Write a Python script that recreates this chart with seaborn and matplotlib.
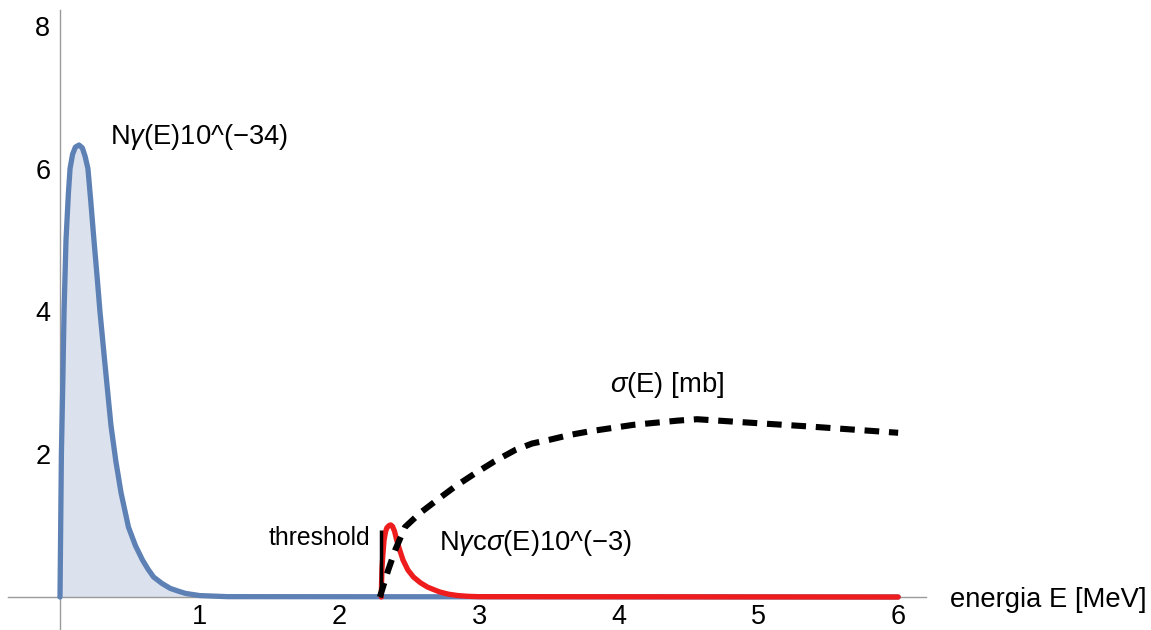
import numpy as np
import pandas as pd
import matplotlib
matplotlib.use("Agg")
import matplotlib.pyplot as plt
from matplotlib.ticker import FixedLocator
import seaborn as sns

# photon spectrum N_gamma(E) * 1e-34
e_gamma = [0.0, 0.005, 0.01, 0.02, 0.029, 0.043, 0.06, 0.072, 0.09, 0.11, 0.136, 0.16,
           0.18, 0.20, 0.22, 0.243, 0.265, 0.286, 0.32, 0.365, 0.40, 0.437, 0.49, 0.54,
           0.59, 0.63, 0.67, 0.73, 0.79, 0.85, 0.9, 1.0, 1.2, 6.0]
n_gamma = [0.0, 1.0, 2.0, 3.0, 4.0, 5.0, 5.65, 6.0, 6.2, 6.3, 6.33, 6.29,
           6.17, 6.0, 5.55, 5.0, 4.5, 4.0, 3.3, 2.4, 1.9, 1.46, 0.98, 0.72,
           0.52, 0.39, 0.28, 0.19, 0.12, 0.08, 0.05, 0.02, 0.005, 0.0]

# cross section sigma(E) in mb
e_sigma = [2.29, 2.35, 2.40, 2.47, 2.58, 2.70, 2.83, 2.97, 3.11, 3.26, 3.38, 3.50,
           3.65, 3.79, 4.10, 4.42, 4.56, 4.87, 5.35, 6.0]
sigma = [0.0, 0.38, 0.66, 0.98, 1.18, 1.36, 1.55, 1.73, 1.90, 2.06, 2.15, 2.20,
         2.27, 2.32, 2.41, 2.47, 2.49, 2.45, 2.39, 2.30]

# N_gamma * c * sigma(E) * 1e-3
e_rate = [2.30, 2.302, 2.305, 2.31, 2.315, 2.32, 2.33, 2.34, 2.355, 2.367, 2.38,
          2.395, 2.41, 2.43, 2.455, 2.49, 2.53, 2.58, 2.63, 2.68, 2.72, 2.78,
          2.85, 2.92, 3.0, 6.0]
rate = [0.0, 0.2, 0.4, 0.55, 0.68, 0.8, 0.91, 0.97, 1.0, 1.01, 0.99,
        0.92, 0.8, 0.67, 0.52, 0.38, 0.28, 0.2, 0.14, 0.1, 0.07, 0.04,
        0.02, 0.01, 0.005, 0.0]

threshold_E = 2.3
threshold_top = 0.94

x_major = [1, 2, 3, 4, 5, 6]
y_major = [2, 4, 6, 8]

sns.set_style("white")
plt.rcParams['font.family'] = ['Liberation Sans', 'DejaVu Sans']
plt.rcParams['mathtext.fontset'] = 'custom'
plt.rcParams['mathtext.rm'] = 'Liberation Sans'
plt.rcParams['mathtext.it'] = 'Liberation Sans:italic'
plt.rcParams['text.color'] = 'black'

fig = plt.figure(figsize=(11.51, 6.30), dpi=100)
ax = fig.add_axes([0, 0, 1, 1])

df_g = pd.DataFrame({'E': e_gamma, 'N': n_gamma})
df_s = pd.DataFrame({'E': e_sigma, 's': sigma})
df_r = pd.DataFrame({'E': e_rate, 'r': rate})

blue = '#5E81B5'
ax.fill_between(df_g['E'], 0, df_g['N'], color='#dbe2ee', lw=0, zorder=1)
sns.lineplot(data=df_g, x='E', y='N', sort=False, estimator=None, color=blue,
             lw=3.8, ax=ax, zorder=3)
sns.lineplot(data=df_r, x='E', y='r', sort=False, estimator=None, color='#ee1c1c',
             lw=3.8, ax=ax, zorder=4)
sns.lineplot(data=df_s, x='E', y='s', sort=False, estimator=None, color='black',
             lw=4.4, ax=ax, zorder=5, linestyle=(0, (2.4, 1.6)))
ax.vlines(threshold_E, 0, threshold_top, color='black', lw=2.5, zorder=6)

# assi che passano per l'origine
ax.set_xlim(-0.4295, 7.81)
ax.set_ylim(-0.462, 8.361)
for s in ['top', 'right']:
    ax.spines[s].set_visible(False)
axis_col = '#9a9a9a'
ax.spines['left'].set_position(('data', 0))
ax.spines['bottom'].set_position(('data', 0))
ax.spines['left'].set_bounds(-0.462, 8.22)
ax.spines['bottom'].set_bounds(-0.37, 6.2)
for s in ['left', 'bottom']:
    ax.spines[s].set_color(axis_col)
    ax.spines[s].set_linewidth(1.0)
    ax.spines[s].set_zorder(2)

ax.xaxis.set_major_locator(FixedLocator(x_major))
ax.xaxis.set_minor_locator(FixedLocator([v / 5 for v in range(-1, 32)]))
ax.yaxis.set_major_locator(FixedLocator(y_major))
ax.yaxis.set_minor_locator(FixedLocator([v / 2 for v in range(1, 17)]))
ax.tick_params(axis='both', which='major', direction='in', length=7, width=0.9,
               color=axis_col, labelsize=19.5, labelcolor='black')
ax.tick_params(axis='both', which='minor', direction='in', length=4.5, width=0.8,
               color=axis_col)
ax.tick_params(axis='x', which='major', pad=5)
ax.tick_params(axis='y', which='major', pad=7)
ax.set_xlabel('')
ax.set_ylabel('')

fs = 19.7
ax.text(0.36, 6.44, r'N$\gamma$(E)10^(−34)', fontsize=fs, va='center', ha='left')
ax.text(3.94, 2.97, r'$\sigma$(E) [mb]', fontsize=fs, va='center', ha='left')
ax.text(2.22, 0.83, 'threshold', fontsize=17.8, va='center', ha='right')
ax.text(2.71, 0.76, r'N$\gamma$c$\sigma$(E)10^(−3)', fontsize=fs, va='center', ha='left')
ax.text(6.37, -0.04, 'energia E [MeV]', fontsize=fs, va='center', ha='left')

fig.savefig('out.png', dpi=100)
